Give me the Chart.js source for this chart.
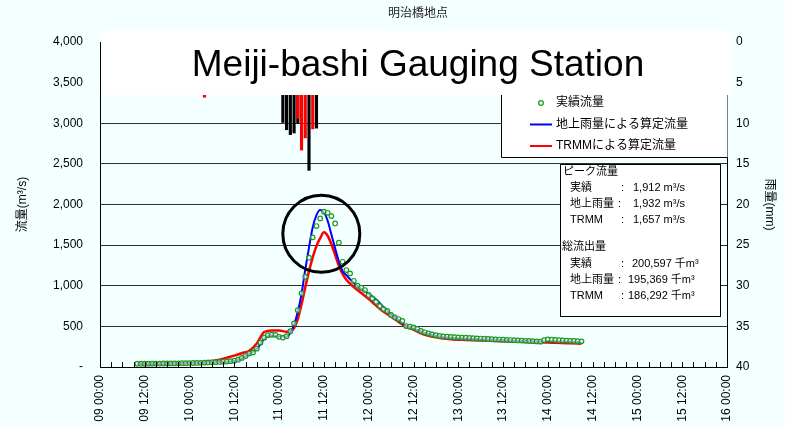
<!DOCTYPE html>
<html>
<head>
<meta charset="utf-8">
<script src="https://cdn.jsdelivr.net/npm/chart.js@4.4.0/dist/chart.umd.min.js"></script>
<style>
  html, body { margin: 0; padding: 0; background: #f4ffff; }
</style>
</head>
<body>
<canvas id="chart" width="785" height="426"></canvas>
<script>
// hours counted from 09 00:00
var xTickLabels = ['09 00:00', '09 12:00', '10 00:00', '10 12:00', '11 00:00', '11 12:00', '12 00:00',
  '12 12:00', '13 00:00', '13 12:00', '14 00:00', '14 12:00', '15 00:00', '15 12:00', '16 00:00'];
var flowTickLabels = ['-', '500', '1,000', '1,500', '2,000', '2,500', '3,000', '3,500', '4,000'];
var rainTickLabels = ['0', '5', '10', '15', '20', '25', '30', '35', '40'];

// observed discharge, hourly from hour 10
var obsStart = 10;
var obsFlow = [
  40, 40, 40, 41, 41, 42, 42, 43, 43, 44,
  44, 45, 46, 47, 48, 49, 50, 52, 54, 56,
  58, 60, 62, 64, 67, 72, 78, 90, 112, 135,
  165, 180, 225, 300, 360, 392, 398, 395, 372, 362,
  380, 440, 537, 700, 907, 1111, 1345, 1596, 1735, 1829,
  1912, 1898, 1857, 1767, 1529, 1295, 1193, 1152, 1061, 1000,
  975, 947, 886, 845, 803, 750, 713, 689, 640, 611,
  590, 566, 504, 496, 488, 467, 443, 427, 414, 402,
  392, 383, 377, 373, 370, 367, 365, 362, 360, 358,
  355, 352, 350, 348, 345, 343, 340, 338, 336, 334,
  332, 330, 327, 325, 322, 320, 318, 315, 312, 330,
  340, 336, 333, 330, 327, 325, 322, 320, 318, 316
];

// calculated discharge
var calcHours = [10, 14, 18, 22, 26, 30, 32, 34, 36, 38, 40, 42, 44, 46, 48, 50, 51, 52, 53, 54,
  55, 56, 57, 58, 59, 60, 61, 62, 63, 64, 65, 66, 68, 70, 72, 74, 76, 78, 80, 82,
  84, 86, 88, 90, 92, 94, 98, 102, 106, 110, 114, 118, 120, 122, 126, 129];
var groundFlow = [40, 41, 43, 46, 50, 58, 62, 66, 75, 105, 160, 220, 345, 390, 375, 375, 420, 520, 680, 900,
  1200, 1470, 1720, 1870, 1932, 1905, 1800, 1630, 1460, 1300, 1180, 1130, 1035, 960, 900, 830, 735, 650, 580, 505,
  475, 438, 406, 386, 370, 361, 351, 343, 335, 327, 319, 311, 318, 318, 310, 304];
var trmmFlow = [40, 40, 42, 46, 55, 75, 90, 115, 140, 170, 200, 290, 430, 450, 450, 434, 440, 480, 590, 770,
  980, 1180, 1350, 1490, 1585, 1657, 1615, 1510, 1380, 1245, 1145, 1075, 985, 910, 835, 755, 680, 620, 555, 495,
  460, 414, 385, 365, 350, 342, 333, 326, 320, 314, 309, 304, 300, 298, 292, 287];

// rainfall (mm/h)
var groundRainHours = [49, 50, 51, 52, 53, 56, 58];
var groundRain = [9.9, 10.8, 11.4, 11.2, 10.0, 15.8, 10.6];
var trmmRainHours = [28, 53, 54, 55, 57];
var trmmRain = [6.8, 9.4, 13.3, 11.8, 10.7];

var peakLabels = ['実績', '地上雨量', 'TRMM'];
var peakValues = ['1,912', '1,932', '1,657'];
var totalValues = ['200,597', '195,369', '186,292'];

var FONT = '"Liberation Sans", "Noto Sans CJK JP", sans-serif';

function pts(xs, ys) {
  return ys.map(function (v, i) { return { x: xs[i], y: v }; });
}
var obsHours = obsFlow.map(function (v, i) { return obsStart + i; });

var overlay = {
  id: 'overlay',
  beforeDraw: function (chart) {
    var c = chart.ctx;
    c.save();
    c.fillStyle = '#f4ffff';
    c.fillRect(0, 0, chart.width, chart.height);
    c.restore();
  },
  afterDatasetsDraw: function (chart) {
    var c = chart.ctx, xs = chart.scales.x, ys = chart.scales.y;
    var area = chart.chartArea;
    c.save();

    // minor ticks on the time axis
    c.strokeStyle = '#000';
    c.lineWidth = 1;
    c.beginPath();
    for (var h = 0; h <= 168; h += 3) {
      var px = Math.round(xs.getPixelForValue(h)) + 0.5;
      c.moveTo(px, area.bottom);
      c.lineTo(px, area.bottom - 5);
    }
    c.stroke();

    // white title box
    c.fillStyle = '#ffffff';
    c.fillRect(101, 30, 630, 65);
    c.fillStyle = '#000';
    c.font = '37px ' + FONT;
    c.textAlign = 'center';
    c.textBaseline = 'alphabetic';
    c.fillText('Meiji-bashi Gauging Station', 418, 76);

    c.font = '12px ' + FONT;
    c.textBaseline = 'middle';
    c.fillStyle = '#222';
    c.fillText('明治橋地点', 418, 14);

    // legend
    c.fillStyle = '#ffffff';
    c.fillRect(501.5, 95, 226, 62);
    c.strokeStyle = '#000';
    c.beginPath();
    c.moveTo(501.5, 95); c.lineTo(501.5, 157.5); c.lineTo(727, 157.5);
    c.stroke();
    c.textAlign = 'left';
    c.fillStyle = '#000';
    c.font = '12px ' + FONT;
    c.strokeStyle = '#1a9a1a';
    c.lineWidth = 1.3;
    c.beginPath(); c.arc(541, 103, 2.3, 0, Math.PI * 2); c.stroke();
    c.fillText('実績流量', 556, 103);
    c.lineWidth = 2;
    c.strokeStyle = '#0000ff';
    c.beginPath(); c.moveTo(530, 124.5); c.lineTo(552, 124.5); c.stroke();
    c.fillText('地上雨量による算定流量', 556, 124.5);
    c.strokeStyle = '#ff0000';
    c.beginPath(); c.moveTo(530, 146); c.lineTo(552, 146); c.stroke();
    c.fillText('TRMMによる算定流量', 556, 146);

    // summary box
    c.fillStyle = '#ffffff';
    c.fillRect(560.5, 164.5, 160, 152);
    c.strokeStyle = '#000';
    c.lineWidth = 1;
    c.strokeRect(560.5, 164.5, 160, 152);
    c.fillStyle = '#000';
    c.font = '11px ' + FONT;
    c.fillText('ピーク流量', 563, 172);
    c.fillText('総流出量', 562, 247);
    var colonX = [621, 618, 621];
    for (var i = 0; i < 3; i++) {
      var y1 = 188 + i * 16, y2 = 264 + i * 16;
      c.fillText(peakLabels[i], 570, y1);
      c.fillText(':', colonX[i], y1);
      c.fillText(peakValues[i] + ' m³/s', 633, y1);
      c.fillText(peakLabels[i], 570, y2);
      c.fillText(':', colonX[i], y2);
      c.fillText(totalValues[i] + ' 千m³', i === 0 ? 632 : 628, y2);
    }

    // highlight ring around the peak
    c.strokeStyle = '#000';
    c.lineWidth = 3;
    c.beginPath();
    c.ellipse(xs.getPixelForValue(59.3), ys.getPixelForValue(1640), 38.5, 38.5, 0, 0, Math.PI * 2);
    c.stroke();
    c.restore();
  }
};

new Chart(document.getElementById('chart'), {
  type: 'line',
  data: {
    datasets: [
      {
        label: '実績流量',
        data: pts(obsHours, obsFlow),
        showLine: false,
        pointRadius: 2.3,
        pointBorderWidth: 1.2,
        pointBorderColor: '#1a9a1a',
        pointBackgroundColor: 'rgba(255,255,255,0.6)',
        yAxisID: 'y',
        order: 0
      },
      {
        label: '地上雨量による算定流量',
        data: pts(calcHours, groundFlow),
        borderColor: '#0000ff',
        borderWidth: 2,
        pointRadius: 0,
        cubicInterpolationMode: 'monotone',
        yAxisID: 'y',
        order: 1
      },
      {
        label: 'TRMMによる算定流量',
        data: pts(calcHours, trmmFlow),
        borderColor: '#ff0000',
        borderWidth: 2.5,
        pointRadius: 0,
        cubicInterpolationMode: 'monotone',
        yAxisID: 'y',
        order: 2
      },
      {
        type: 'bar',
        label: 'TRMM雨量',
        data: pts(trmmRainHours, trmmRain),
        backgroundColor: '#ff0000',
        barThickness: 2.5,
        grouped: false,
        yAxisID: 'yR',
        order: 3
      },
      {
        type: 'bar',
        label: '地上雨量',
        data: pts(groundRainHours, groundRain),
        backgroundColor: '#000000',
        barThickness: 2.5,
        grouped: false,
        yAxisID: 'yR',
        order: 4
      }
    ]
  },
  options: {
    responsive: false,
    animation: false,
    layout: { padding: { top: 42, left: 0, right: 0, bottom: 0 } },
    plugins: { legend: { display: false }, tooltip: { enabled: false } },
    scales: {
      x: {
        type: 'linear',
        min: 0,
        max: 168,
        offset: false,
        grid: { display: true, drawOnChartArea: false, drawTicks: false, offset: false },
        border: { display: true, color: '#000', width: 1 },
        ticks: {
          stepSize: 12,
          autoSkip: false,
          maxRotation: 90,
          minRotation: 90,
          padding: 8,
          color: '#000',
          font: { family: FONT, size: 12 },
          callback: function (v) { return xTickLabels[Math.round(v / 12)]; }
        },
        afterFit: function (s) { s.height = 59; }
      },
      y: {
        position: 'left',
        min: 0,
        max: 4000,
        grid: { color: '#303030', lineWidth: 1, drawTicks: false },
        border: { display: true, color: '#000', width: 1 },
        ticks: {
          stepSize: 500,
          padding: 17,
          color: '#000',
          font: { family: FONT, size: 12 },
          callback: function (v) { return flowTickLabels[Math.round(v / 500)]; }
        },
        title: {
          display: true,
          text: '流量(m³/s)',
          color: '#000',
          font: { family: FONT, size: 12 },
          padding: { top: 15, bottom: 0 }
        },
        afterFit: function (s) { s.width = 100; }
      },
      yR: {
        position: 'right',
        min: 0,
        max: 40,
        reverse: true,
        grid: { drawOnChartArea: false, drawTicks: false },
        border: { display: true, color: '#000', width: 1 },
        ticks: {
          stepSize: 5,
          padding: 9,
          color: '#000',
          font: { family: FONT, size: 12 },
          callback: function (v) { return rainTickLabels[Math.round(v / 5)]; }
        },
        title: {
          display: true,
          text: '雨量(mm)',
          color: '#000',
          font: { family: FONT, size: 12 },
          padding: { top: 8, bottom: 0 }
        },
        afterFit: function (s) { s.width = 58; }
      }
    }
  },
  plugins: [overlay]
});
</script>
</body>
</html>
